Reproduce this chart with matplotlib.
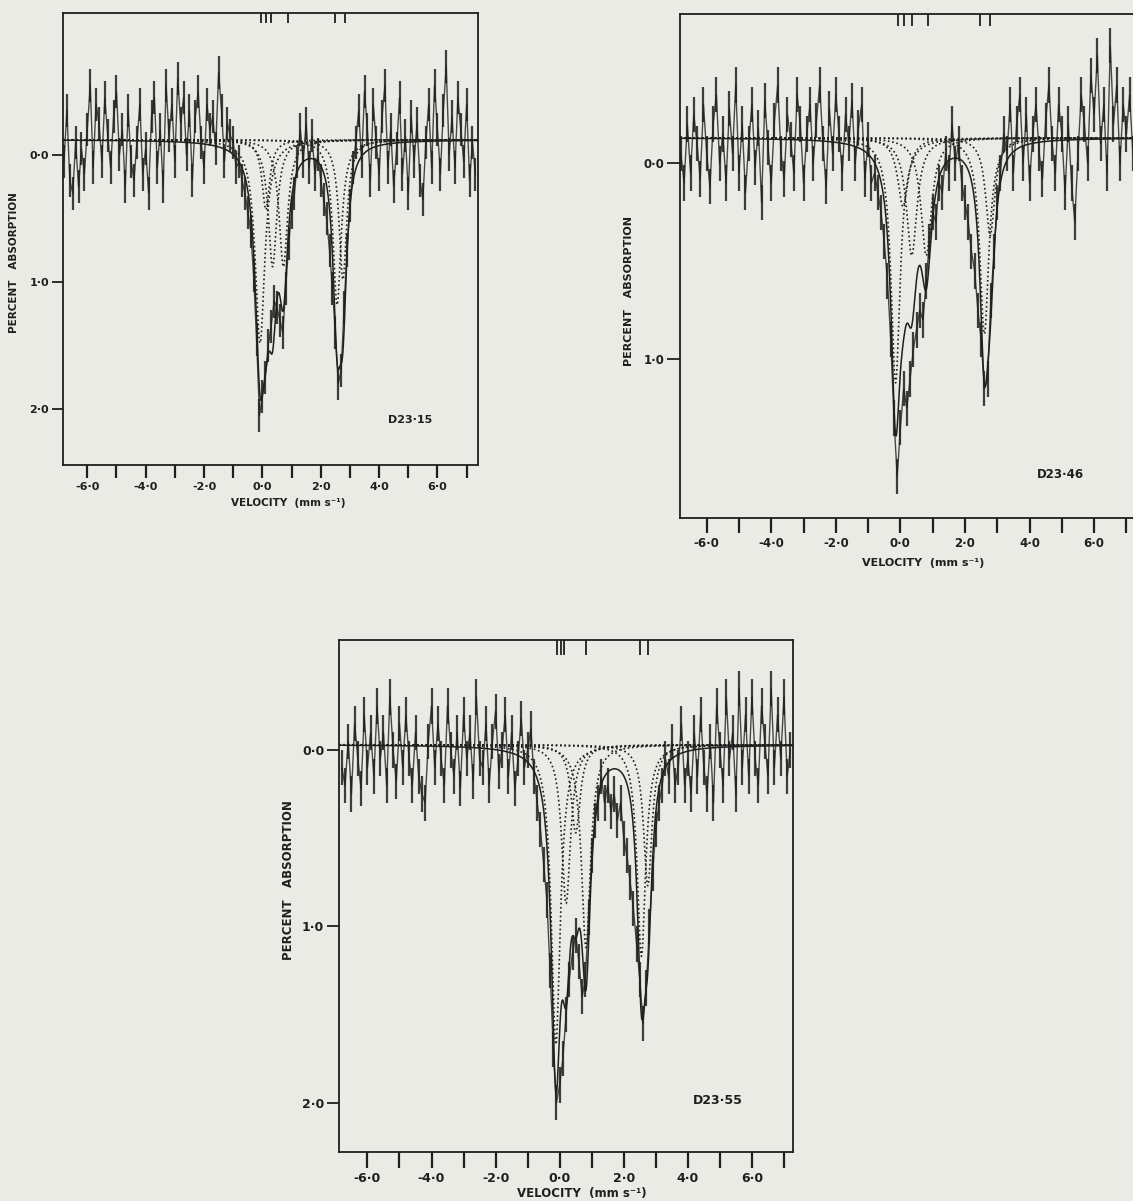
import numpy as np
import matplotlib
matplotlib.use("Agg")
import matplotlib.pyplot as plt
from matplotlib.transforms import blended_transform_factory

W, H, DPI = 1133, 1201, 100
PAPER = "#e9ebe4"
INK = "#1f1f1f"
FONT = "DejaVu Sans"

# velocity of the first channel and channel spacing (mm/s)
V_START = -6.8
V_STEP = 0.1

# ---- D23·15 : percent absorption per channel ----
obs_15 = [
    0.05, -0.35, 0.20, 0.30, -0.10, 0.25, -0.05, 0.15, -0.20, -0.55,
    0.10, -0.40, -0.25, 0.05, -0.45, -0.15, 0.10, -0.30, -0.50, 0.00,
    -0.20, 0.25, -0.35, 0.05, 0.20, -0.10, -0.40, 0.15, -0.05, 0.30,
    -0.30, -0.45, 0.10, -0.20, 0.25, -0.55, -0.15, -0.40, 0.05, -0.60,
    -0.25, -0.45, 0.00, -0.35, 0.20, -0.30, -0.50, -0.10, 0.10, -0.40,
    -0.20, -0.30, -0.05, -0.65, -0.35, 0.05, -0.25, -0.15, -0.10, 0.10,
    0.05, 0.20, 0.30, 0.45, 0.60, 0.95, 1.45, 2.05, 1.90, 1.75,
    1.50, 1.35, 1.15, 1.20, 1.30, 1.40, 1.05, 0.70, 0.45, 0.30,
    0.05, -0.20, 0.05, -0.25, 0.10, -0.15, 0.15, 0.00, 0.20, 0.35,
    0.50, 0.75, 1.05, 1.40, 1.80, 1.70, 1.20, 0.75, 0.40, 0.10,
    -0.10, -0.35, 0.05, -0.50, -0.20, 0.20, -0.40, -0.10, 0.15, -0.30,
    -0.55, 0.10, -0.20, 0.25, -0.05, -0.45, 0.15, -0.15, 0.30, -0.30,
    0.05, -0.25, 0.20, 0.35, -0.10, -0.40, 0.10, -0.55, -0.20, 0.15,
    -0.35, -0.70, 0.00, -0.30, 0.10, -0.45, -0.20, 0.05, -0.40, 0.20,
    -0.10, 0.15,
]
base_15 = -0.12
pos_15 = [-0.08, 0.12, 0.35, 0.72, 2.56, 2.76]
depth_15 = [1.60, 0.55, 1.00, 1.00, 1.30, 1.10]
hwhm_15 = [0.20, 0.16, 0.18, 0.18, 0.17, 0.16]
marks_15 = [-0.05, 0.11, 0.29, 0.89, 2.49, 2.83]

# ---- D23·46 ----
obs_46 = [
    -0.05, 0.10, -0.20, 0.05, -0.25, -0.10, 0.08, -0.30, -0.05, 0.12,
    -0.20, -0.35, 0.00, -0.15, 0.10, -0.28, -0.05, -0.40, 0.05, -0.20,
    0.15, -0.10, -0.30, 0.02, -0.18, 0.20, -0.32, -0.08, 0.10, -0.22,
    -0.40, -0.05, 0.08, -0.25, -0.12, 0.05, -0.35, -0.20, 0.10, -0.15,
    -0.30, 0.00, -0.22, -0.40, -0.10, 0.12, -0.28, -0.05, -0.35, -0.15,
    0.05, -0.25, -0.10, -0.32, 0.00, -0.18, -0.30, 0.08, -0.12, 0.10,
    0.05, 0.15, 0.25, 0.40, 0.60, 0.90, 1.30, 1.60, 1.35, 1.15,
    1.25, 1.10, 0.95, 0.85, 0.75, 0.80, 0.60, 0.40, 0.25, 0.30,
    0.10, 0.15, -0.05, 0.05, -0.20, 0.00, -0.10, 0.10, 0.20, 0.30,
    0.45, 0.55, 0.75, 0.90, 1.15, 1.10, 0.70, 0.45, 0.20, 0.05,
    -0.15, -0.05, -0.30, 0.05, -0.20, -0.35, 0.00, -0.25, 0.10, -0.15,
    -0.30, -0.05, 0.08, -0.22, -0.40, -0.10, 0.05, -0.30, -0.15, 0.15,
    -0.20, 0.10, 0.30, -0.05, -0.35, -0.20, 0.00, -0.45, -0.25, -0.55,
    -0.10, -0.30, 0.05, -0.60, -0.20, -0.40, 0.00, -0.30, -0.15, -0.35,
    -0.05, -0.20,
]
base_46 = -0.13
pos_46 = [-0.15, 0.08, 0.35, 0.80, 2.60, 2.78]
depth_46 = [1.25, 0.35, 0.60, 0.60, 1.00, 0.50]
hwhm_46 = [0.17, 0.20, 0.20, 0.20, 0.17, 0.17]
marks_46 = [-0.07, 0.11, 0.35, 0.86, 2.48, 2.79]

# ---- D23·55 ----
obs_55 = [
    0.10, 0.20, -0.05, 0.25, -0.15, 0.05, 0.22, -0.20, 0.10, -0.10,
    0.15, -0.25, 0.05, -0.10, 0.20, -0.30, 0.00, 0.18, -0.15, 0.10,
    -0.20, 0.05, 0.20, -0.10, 0.15, 0.25, 0.30, -0.05, -0.25, 0.10,
    -0.15, 0.05, 0.20, -0.25, 0.00, 0.15, -0.10, 0.22, -0.20, 0.05,
    -0.10, 0.18, -0.30, 0.05, 0.10, -0.15, 0.20, -0.05, -0.22, 0.12,
    0.00, -0.20, 0.15, -0.10, 0.22, 0.05, -0.18, 0.10, 0.00, -0.12,
    0.15, 0.30, 0.45, 0.65, 0.85, 1.25, 1.70, 2.00, 1.90, 1.75,
    1.50, 1.30, 1.15, 1.05, 1.20, 1.40, 1.30, 0.95, 0.60, 0.40,
    0.30, 0.15, 0.30, 0.20, 0.35, 0.25, 0.40, 0.30, 0.50, 0.60,
    0.75, 0.90, 1.10, 1.30, 1.55, 1.35, 1.00, 0.70, 0.45, 0.30,
    0.20, 0.05, 0.15, -0.05, 0.20, 0.10, -0.15, 0.20, 0.05, 0.25,
    -0.10, 0.15, -0.20, 0.10, 0.25, -0.05, 0.30, -0.25, 0.00, 0.20,
    -0.30, 0.05, -0.10, 0.25, -0.35, 0.10, -0.20, 0.15, -0.30, 0.05,
    0.20, -0.25, -0.05, 0.15, -0.35, 0.10, -0.20, 0.05, -0.30, 0.15,
    0.00,
]
base_55 = -0.03
pos_55 = [-0.12, 0.20, 0.50, 0.82, 2.55, 2.75]
depth_55 = [1.70, 0.90, 0.50, 1.15, 1.20, 0.80]
hwhm_55 = [0.17, 0.17, 0.17, 0.17, 0.16, 0.16]
marks_55 = [-0.07, 0.03, 0.14, 0.82, 2.51, 2.77]

x_tick_values = list(range(-6, 8))
x_tick_labels = ["-6\u00b70", "", "-4\u00b70", "", "-2\u00b70", "", "0\u00b70", "",
                 "2\u00b70", "", "4\u00b70", "", "6\u00b70", ""]

panels = [
    dict(name="D23\u00b715", obs=obs_15, base=base_15, pos=pos_15, depth=depth_15,
         hwhm=hwhm_15, marks=marks_15, err=0.13,
         box=(63, 478, 13, 465), xlim=(-6.833, 7.389), ylim=(2.441, -1.118),
         yticks=[0, 1, 2], name_xy=(410, 420), ylab_xy=(14, 263),
         xlab_xy=(288, 503), xtick_len=13, ytick_len=11, mark_len=10, fs=8.0),
    dict(name="D23\u00b746", obs=obs_46, base=base_46, pos=pos_46, depth=depth_46,
         hwhm=hwhm_46, marks=marks_46, err=0.09,
         box=(680, 1139, 14, 518), xlim=(-6.827, 7.39), ylim=(1.810, -0.762),
         yticks=[0, 1], name_xy=(1060, 475), ylab_xy=(629, 291),
         xlab_xy=(923, 563), xtick_len=15, ytick_len=13, mark_len=12, fs=8.5),
    dict(name="D23\u00b755", obs=obs_55, base=base_55, pos=pos_55, depth=depth_55,
         hwhm=hwhm_55, marks=marks_55, err=0.10,
         box=(339, 793, 640, 1152), xlim=(-6.888, 7.282), ylim=(2.280, -0.624),
         yticks=[0, 1, 2], name_xy=(718, 1100), ylab_xy=(289, 880),
         xlab_xy=(582, 1194), xtick_len=16, ytick_len=12, mark_len=15, fs=9.0),
]

PX = 72.0 / DPI  # points per pixel


def lorentz(v, p, d, w):
    return d / (1.0 + ((v - p) / w) ** 2)


fig = plt.figure(figsize=(W / DPI, H / DPI), dpi=DPI, facecolor=PAPER)

for P in panels:
    x0, x1, y0, y1 = P["box"]
    ax = fig.add_axes([x0 / W, 1 - y1 / H, (x1 - x0) / W, (y1 - y0) / H])
    ax.set_facecolor(PAPER)

    obs = np.asarray(P["obs"])
    vel = V_START + V_STEP * np.arange(len(obs))
    e = P["err"]
    ax.vlines(vel, obs - e, obs + e, color=INK, lw=1.6, alpha=0.85, zorder=2)
    ax.plot(vel, obs, color=INK, lw=1.0, alpha=0.8, zorder=2)

    fine = np.linspace(P["xlim"][0], P["xlim"][1], 2500)
    total = np.full_like(fine, P["base"])
    for p, d, w in zip(P["pos"], P["depth"], P["hwhm"]):
        comp = lorentz(fine, p, d, w)
        total += comp
        ax.plot(fine, P["base"] + comp, color=INK, lw=1.2,
                ls=(0, (1, 1.6)), zorder=3)
    ax.plot(fine, total, color=INK, lw=1.1, zorder=4)

    tr = blended_transform_factory(ax.transData, ax.transAxes)
    mlen = P["mark_len"] / (y1 - y0)
    ax.vlines(P["marks"], 1 - mlen, 1, transform=tr, color=INK, lw=1.3, zorder=5)

    ax.set_xlim(*P["xlim"])
    ax.set_ylim(*P["ylim"])
    ax.set_xticks(x_tick_values)
    ax.set_xticklabels(x_tick_labels)
    ax.set_yticks(P["yticks"])
    ax.set_yticklabels([f"{t}\u00b70" for t in P["yticks"]])
    ax.tick_params(axis="x", direction="out", length=P["xtick_len"] * PX,
                   width=1.6, color=INK, pad=3, labelsize=P["fs"], labelcolor=INK)
    ax.tick_params(axis="y", direction="out", length=P["ytick_len"] * PX,
                   width=1.3, color=INK, pad=2, labelsize=P["fs"], labelcolor=INK)
    for lab in ax.get_xticklabels() + ax.get_yticklabels():
        lab.set_fontfamily(FONT)
        lab.set_fontweight("bold")
    for s in ax.spines.values():
        s.set_linewidth(1.3)
        s.set_color(INK)

    nx, ny = P["name_xy"]
    fig.text(nx / W, 1 - ny / H, P["name"], ha="center", va="center",
             fontsize=P["fs"], fontweight="bold", family=FONT, color=INK)
    lx, ly = P["ylab_xy"]
    fig.text(lx / W, 1 - ly / H, "PERCENT   ABSORPTION", rotation=90,
             ha="center", va="center", fontsize=P["fs"] - 0.5,
             fontweight="bold", family=FONT, color=INK)
    vx, vy = P["xlab_xy"]
    fig.text(vx / W, 1 - vy / H, "VELOCITY  (mm s\u207b\u00b9)", ha="center",
             va="center", fontsize=P["fs"] - 0.5, fontweight="bold",
             family=FONT, color=INK)

fig.savefig("out.png", dpi=DPI, facecolor=PAPER)
